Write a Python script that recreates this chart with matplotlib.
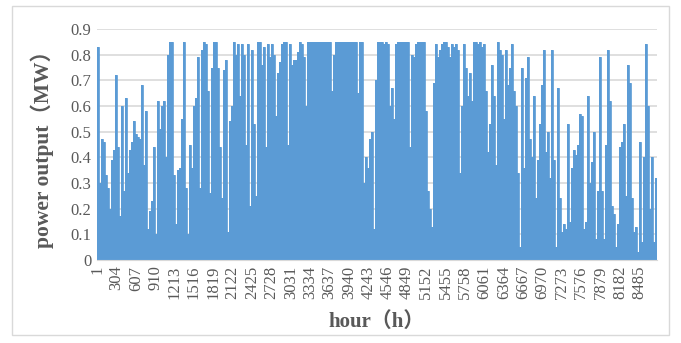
import matplotlib
matplotlib.use("Agg")
import matplotlib.pyplot as plt
from matplotlib.patches import Rectangle
import numpy as np

# peak power output (MW) for consecutive blocks of the year
peak = [
    0.83, 0.30, 0.47, 0.46, 0.33, 0.28, 0.20, 0.39, 0.43, 0.72,
    0.44, 0.17, 0.60, 0.27, 0.63, 0.34, 0.43, 0.46, 0.54, 0.49,
    0.48, 0.47, 0.68, 0.37, 0.58, 0.12, 0.19, 0.23, 0.44, 0.10,
    0.62, 0.51, 0.60, 0.62, 0.40, 0.80, 0.85, 0.85, 0.33, 0.14,
    0.35, 0.36, 0.55, 0.85, 0.28, 0.10, 0.45, 0.36, 0.60, 0.63,
    0.79, 0.28, 0.82, 0.85, 0.84, 0.66, 0.26, 0.75, 0.85, 0.85,
    0.75, 0.44, 0.24, 0.74, 0.78, 0.11, 0.54, 0.60, 0.85, 0.80,
    0.84, 0.64, 0.84, 0.80, 0.45, 0.84, 0.21, 0.82, 0.53, 0.25,
    0.85, 0.85, 0.76, 0.83, 0.44, 0.84, 0.79, 0.84, 0.80, 0.56,
    0.73, 0.77, 0.84, 0.85, 0.85, 0.45, 0.84, 0.76, 0.78, 0.78,
    0.81, 0.85, 0.84, 0.79, 0.60, 0.85, 0.85, 0.85, 0.85, 0.85,
    0.85, 0.85, 0.85, 0.85, 0.85, 0.85, 0.85, 0.66, 0.80, 0.85,
    0.85, 0.85, 0.85, 0.85, 0.85, 0.85, 0.85, 0.85, 0.85, 0.85,
    0.65, 0.85, 0.85, 0.30, 0.40, 0.36, 0.47, 0.50, 0.12, 0.70,
    0.85, 0.85, 0.85, 0.84, 0.85, 0.84, 0.60, 0.67, 0.55, 0.84,
    0.85, 0.85, 0.85, 0.85, 0.85, 0.85, 0.44, 0.80, 0.79, 0.84,
    0.85, 0.85, 0.85, 0.85, 0.58, 0.27, 0.20, 0.13, 0.69, 0.84,
    0.79, 0.82, 0.84, 0.85, 0.85, 0.83, 0.79, 0.84, 0.83, 0.84,
    0.82, 0.34, 0.60, 0.84, 0.75, 0.64, 0.73, 0.62, 0.85, 0.85,
    0.84, 0.85, 0.83, 0.84, 0.66, 0.42, 0.53, 0.76, 0.64, 0.37,
    0.85, 0.82, 0.80, 0.55, 0.82, 0.68, 0.75, 0.84, 0.66, 0.60,
    0.34, 0.05, 0.75, 0.36, 0.71, 0.79, 0.47, 0.40, 0.64, 0.24,
    0.39, 0.53, 0.68, 0.82, 0.42, 0.50, 0.32, 0.82, 0.39, 0.05,
    0.67, 0.24, 0.11, 0.14, 0.12, 0.53, 0.15, 0.36, 0.43, 0.41,
    0.45, 0.57, 0.56, 0.12, 0.15, 0.64, 0.30, 0.38, 0.50, 0.08,
    0.27, 0.79, 0.27, 0.08, 0.45, 0.82, 0.62, 0.21, 0.18, 0.05,
    0.14, 0.44, 0.46, 0.53, 0.25, 0.76, 0.69, 0.24, 0.11, 0.13,
    0.03, 0.46, 0.07, 0.40, 0.84, 0.60, 0.20, 0.40, 0.07, 0.32,
]
n_hours = 8760
tick_hours = list(range(1, n_hours, 303))
y_ticks = [0, 0.1, 0.2, 0.3, 0.4, 0.5, 0.6, 0.7, 0.8, 0.9]

serif = ['Liberation Serif', 'Noto Sans CJK SC']
grey = '#595959'
blue = '#5b9bd5'

fig = plt.figure(figsize=(6.81, 3.43), dpi=100)
ax = fig.add_axes([97/681, 1-260/343, 560/681, 231/343])

edges = np.linspace(0.5, n_hours + 0.5, len(peak) + 1)
ax.stairs(peak, edges, fill=True, color=blue, linewidth=0, zorder=3)
ax.stairs(peak, edges, color=blue, linewidth=0.6, zorder=3)

ax.set_xlim(0.5, n_hours + 0.5)
ax.set_ylim(0, 0.9)
ax.set_yticks(y_ticks)
ax.set_yticklabels(['0' if v == 0 else f'{v:.1f}' for v in y_ticks],
                   family=serif, fontsize=12, color=grey)
ax.set_xticks(tick_hours)
ax.set_xticklabels([str(h) for h in tick_hours], rotation=90,
                   family=serif, fontsize=12, color=grey)
ax.tick_params(length=0, pad=4)
ax.grid(axis='y', color='#d9d9d9', linewidth=1.2, zorder=0)
for s in ['top', 'right', 'left']:
    ax.spines[s].set_visible(False)
ax.spines['bottom'].set_color('#d9d9d9')
ax.spines['bottom'].set_zorder(4)

ax.set_ylabel('power output（MW）', family=serif, fontsize=15.5,
              fontweight='bold', color=grey, labelpad=12)
ax.set_xlabel('hour（h）', family=serif, fontsize=15,
              fontweight='bold', color=grey, labelpad=9)

fig.patches.append(Rectangle((12/681, 1-335/343), 657/681, 329/343,
                             transform=fig.transFigure, fill=False,
                             edgecolor='#d9d9d9', linewidth=1))

fig.savefig('out.png', dpi=100)
